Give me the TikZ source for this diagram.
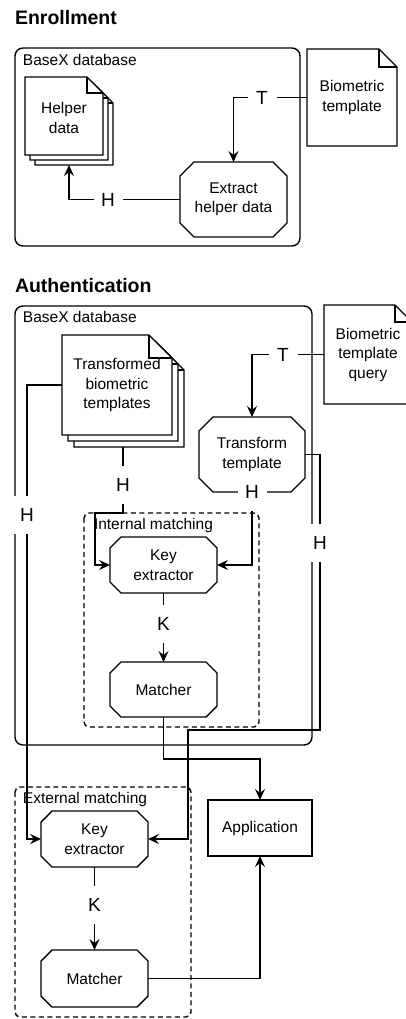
\documentclass[tikz,border=0pt]{standalone}
\usepackage{fontspec}
\setmainfont{Liberation Sans}
\usetikzlibrary{arrows.meta,calc}
\newcommand\mynote[5]{%
  \filldraw[fill=white] (#1,#2) -- (#3-#5,#2) -- (#3,#2+#5) -- (#3,#4) -- (#1,#4) -- cycle;
  \draw (#3-#5,#2) -- (#3-#5,#2+#5) -- (#3,#2+#5);}
\newcommand\myocto[2]{%
  \draw ([xshift=#2]#1.north west) -- ([xshift=-#2]#1.north east) -- ([yshift=-#2]#1.north east)
   -- ([yshift=#2]#1.south east) -- ([xshift=-#2]#1.south east) -- ([xshift=#2]#1.south west)
   -- ([yshift=#2]#1.south west) -- ([yshift=-#2]#1.north west) -- cycle;}
\begin{document}
\begin{tikzpicture}[x=1pt,y=-1pt,
  line width=1.4pt,
  every node/.style={inner sep=0pt, outer sep=0pt},
  txt/.style={font=\fontsize{15.5}{19.5}\selectfont, align=center},
  ttl/.style={font=\fontsize{19.5}{22}\selectfont\bfseries, anchor=base west},
  grp/.style={font=\fontsize{15.5}{18}\selectfont, anchor=base west},
  dbbox/.style={draw, rounded corners=8pt},
  dshbox/.style={draw, dash pattern=on 5pt off 3.5pt, rounded corners=5pt},
  arr/.style={draw, -{Stealth[length=11pt,width=10pt,inset=4pt]}},
  lbl/.style={fill=white, font=\fontsize{19}{22}\selectfont, minimum width=29pt, minimum height=38pt},
]
\useasboundingbox (0,0) rectangle (406,1019);
\clip (0,0) rectangle (406,1019);

% ---------------- Enrollment ----------------
\node[ttl] (enrolltitle) at (15,25) {Enrollment};
\draw[dbbox] (15,48) rectangle (300,246);
\node[grp] (enrolldb) at (23,66) {BaseX database};

\mynote{35}{87}{113}{165}{16}
\mynote{30}{82}{108}{160}{16}
\mynote{25}{77}{103}{155}{16}
\node[minimum width=88pt, minimum height=88pt] (helper) at (69,121) {};
\node[txt] (helpertxt) at (64,118) {Helper\\data};

\mynote{307}{49}{397}{146}{18}
\node[txt, minimum width=90pt, minimum height=97pt] (bio) at (352,97.5) {Biometric\\template};

\node[txt, minimum width=107pt, minimum height=75pt] (extract) at (233.5,199.5) {Extract\\helper data};
\myocto{extract}{14pt}

\draw[arr] (bio.west) -| (extract.north);
\draw[arr] (extract.west) -| (helper.south);

% ---------------- Authentication ----------------
\node[ttl] (authtitle) at (15,292) {Authentication};
\draw[dbbox] (15,306) rectangle (312,745);
\node[grp] (authdb) at (23,322) {BaseX database};

\mynote{324}{305}{412}{404}{17}
\node[txt, minimum width=88pt, minimum height=99pt] (bioq) at (368,354.5) {Biometric\\template\\query};

\mynote{74}{347}{184}{447}{23}
\mynote{68}{341}{178}{441}{23}
\mynote{62}{335}{172}{435}{23}
\node[minimum width=122pt, minimum height=112pt] (tstack) at (123,391) {};
\node[txt, minimum width=110pt, minimum height=100pt] (tfront) at (117,385) {Transformed\\biometric\\templates};

\node[txt, minimum width=106pt, minimum height=75pt] (transform) at (252,454.5) {Transform\\template};
\myocto{transform}{14pt}

\draw[dshbox] (84,513) rectangle (259,727);
\node[grp] (intlabel) at (94,529) {Internal matching};
\node[txt, minimum width=107pt, minimum height=56pt] (ikey) at (163.5,565) {Key\\extractor};
\myocto{ikey}{11pt}
\node[txt, minimum width=107pt, minimum height=55pt] (imatch) at (163.5,689.5) {Matcher};
\myocto{imatch}{11pt}

\draw[dshbox] (15,787) rectangle (191,1017);
\node[grp] (extlabel) at (23,803) {External matching};
\node[txt, minimum width=107pt, minimum height=56pt] (ekey) at (94.5,839) {Key\\extractor};
\myocto{ekey}{11pt}
\node[txt, minimum width=107pt, minimum height=57pt] (ematch) at (94.5,978.5) {Matcher};
\myocto{ematch}{11pt}

\node[txt, draw, minimum width=104pt, minimum height=56pt] (app) at (260,828) {Application};

% connectors
\draw[arr] (bioq.west) -| (transform.north);
\draw[arr] (tstack.south) |- (95,513) |- (ikey.west);
\draw[arr] (tfront.west) -| (27,839) -- (ekey.west);
\draw[arr] (transform.south) |- (ikey.east);
\draw[arr] (transform.east) -| (320,730) -- (188,730) |- (ekey.east);
\draw[arr] (ikey.south) -- (imatch.north);
\draw[arr] (ekey.south) -- (ematch.north);
\draw[arr] (imatch.south) -- ++(0,42) -| (app.north);
\draw[arr] (ematch.east) -| (app.south);

% edge labels
\node[lbl] (lT1) at (262,97.5) {T};
\node[lbl] (lH1) at (108,199.5) {H};
\node[lbl] (lT2) at (283,354.5) {T};
\node[lbl] (lH2) at (123,485) {H};
\node[lbl] (lH3) at (27,515) {H};
\node[lbl] (lH4) at (transform.south) {H};
\node[lbl] (lH5) at (320,543) {H};
\node[lbl] (lK1) at (163.5,624) {K};
\node[lbl] (lK2) at (94.5,905) {K};
\end{tikzpicture}
\end{document}
